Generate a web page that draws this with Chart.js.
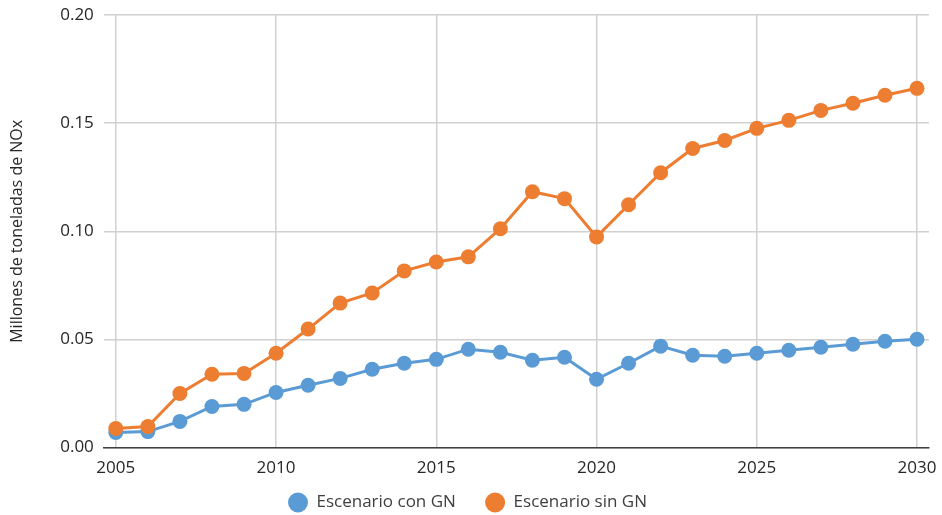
<!DOCTYPE html>
<html>
<head>
<meta charset="utf-8">
<script src="https://cdn.jsdelivr.net/npm/chart.js@4"></script>
<style>
  html, body { margin: 0; padding: 0; background: #fff; }
  #wrap { width: 942px; height: 515px; }
</style>
</head>
<body>
<div id="wrap"><canvas id="noxChart" width="942" height="515"></canvas></div>
<script>
const years = [2005, 2006, 2007, 2008, 2009, 2010, 2011, 2012, 2013, 2014, 2015, 2016, 2017,
               2018, 2019, 2020, 2021, 2022, 2023, 2024, 2025, 2026, 2027, 2028, 2029, 2030];
const conGN = [0.0070, 0.0074, 0.0121, 0.0190, 0.0200, 0.0255, 0.0288, 0.0320, 0.0362, 0.0390,
               0.0408, 0.0455, 0.0441, 0.0404, 0.0418, 0.0316, 0.0390, 0.0469, 0.0427, 0.0422,
               0.0436, 0.0450, 0.0464, 0.0478, 0.0492, 0.0501];
const sinGN = [0.0088, 0.0097, 0.0250, 0.0339, 0.0343, 0.0436, 0.0548, 0.0668, 0.0715, 0.0817,
               0.0858, 0.0882, 0.1012, 0.1183, 0.1151, 0.0974, 0.1123, 0.1271, 0.1383, 0.1420,
               0.1476, 0.1513, 0.1559, 0.1592, 0.1629, 0.1661];
const xTicks = [2005, 2010, 2015, 2020, 2025, 2030];

const BLUE = '#5B9BD5';
const ORANGE = '#ED7D31';
const FONT = '"Open Sans", "Noto Sans", sans-serif';

const toPoints = (vals) => vals.map((v, i) => ({ x: years[i], y: v }));

const series = (label, vals, color, order) => ({
    label,
    data: toPoints(vals),
    borderColor: color,
    backgroundColor: color,
    borderWidth: 3,
    pointRadius: 7.5,
    pointBorderWidth: 0,
    pointBackgroundColor: color,
    tension: 0,
    order
});

new Chart(document.getElementById('noxChart'), {
    type: 'line',
    data: {
        datasets: [
            series('Escenario con GN', conGN, BLUE, 1),
            series('Escenario sin GN', sinGN, ORANGE, 0)
        ]
    },
    options: {
        responsive: false,
        animation: false,
        layout: { padding: { top: 15, right: 13, left: 6, bottom: -6 } },
        plugins: {
            tooltip: { enabled: false },
            legend: {
                position: 'bottom',
                labels: {
                    usePointStyle: true,
                    pointStyle: 'circle',
                    boxHeight: 14,
                    pointStyleWidth: 20,
                    padding: 16,
                    color: '#404040',
                    font: { family: FONT, size: 17 },
                    sort: (a, b) => a.datasetIndex - b.datasetIndex,
                    // keep the row tight vertically but leave room between the two entries
                    generateLabels: (chart) => {
                        const items = Chart.defaults.plugins.legend.labels.generateLabels(chart);
                        items.forEach(it => { if (it.datasetIndex === 0) it.text += '   '; });
                        return items;
                    }
                }
            }
        },
        scales: {
            x: {
                type: 'linear',
                min: 2004.626,
                max: 2030.374,
                afterBuildTicks: (axis) => { axis.ticks = xTicks.map(v => ({ value: v })); },
                ticks: {
                    color: '#262626',
                    font: { family: FONT, size: 17 },
                    padding: 0,
                    maxRotation: 0,
                    callback: (v) => String(v)
                },
                grid: { color: '#d0d0d0', lineWidth: 1.5, drawTicks: true, tickLength: 10, tickColor: 'rgba(0,0,0,0)' },
                border: { display: true, color: '#404040', width: 1.5 }
            },
            y: {
                min: 0,
                max: 0.2,
                ticks: {
                    stepSize: 0.05,
                    color: '#262626',
                    font: { family: FONT, size: 17 },
                    padding: 0,
                    callback: (v) => v.toFixed(2)
                },
                grid: { color: '#d0d0d0', lineWidth: 1.5, drawTicks: true, tickLength: 10, tickColor: 'rgba(0,0,0,0)' },
                border: { display: false },
                title: {
                    display: true,
                    text: 'Millones de toneladas de NOx',
                    color: '#262626',
                    font: { family: FONT, size: 16 },
                    padding: { top: 2, bottom: 33 }
                }
            }
        }
    }
});
</script>
</body>
</html>
